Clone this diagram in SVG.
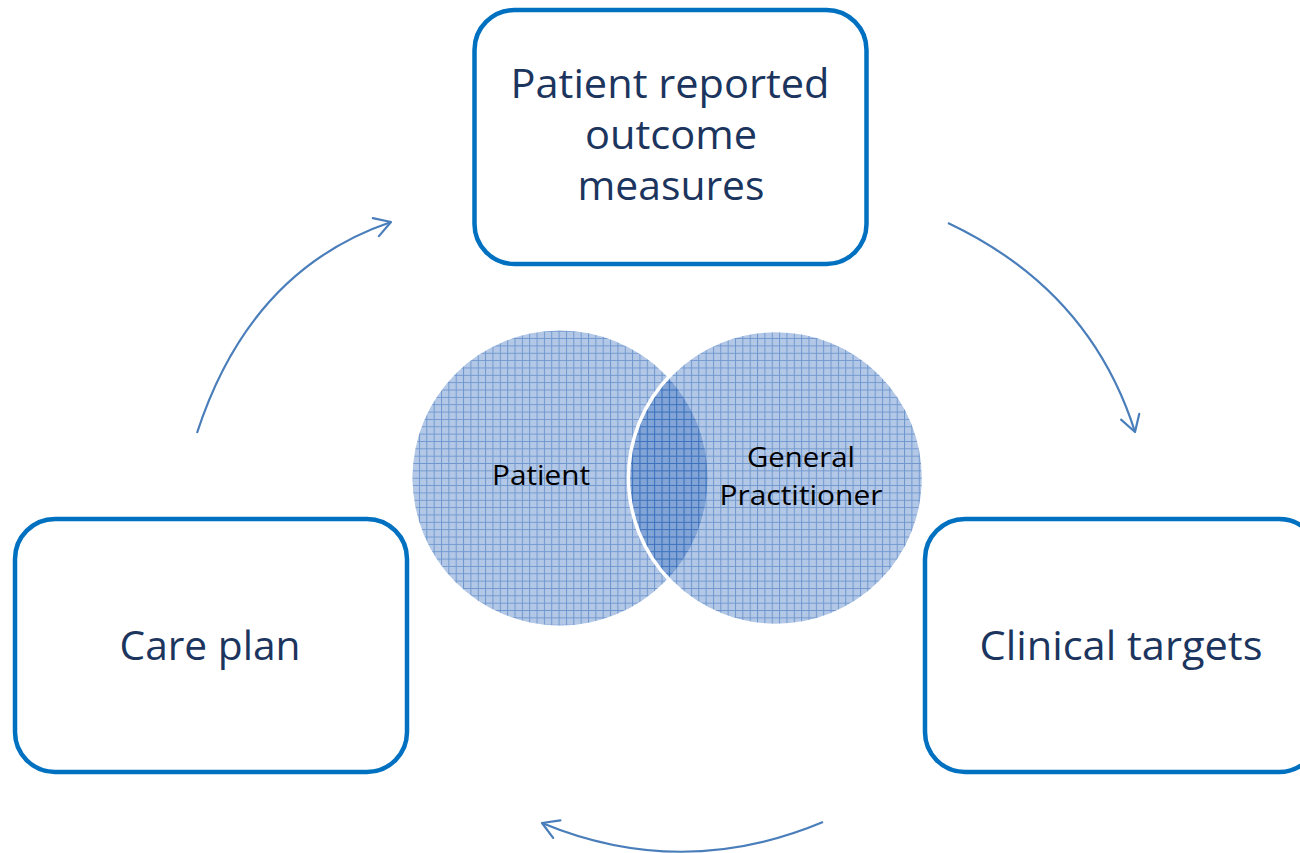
<svg xmlns="http://www.w3.org/2000/svg" width="1300" height="853" viewBox="0 0 1300 853">
  <style>
    .box { fill: #ffffff; stroke: #0070c0; stroke-width: 4.5; }
    .big { font-family: "Open Sans", "Liberation Sans", sans-serif; font-size: 40px; fill: #1c355e; text-anchor: middle; }
    .small { font-family: "Open Sans", "Liberation Sans", sans-serif; font-size: 28px; fill: #000000; text-anchor: middle; }
    .arc { fill: none; stroke: #4a7ebb; stroke-width: 2.2; marker-end: url(#open); }
  </style>
  <defs>
    <!-- light blue grid fill, translucent so the overlap darkens -->
    <pattern id="grid" patternUnits="userSpaceOnUse" width="7.35" height="7.35">
      <rect width="7.35" height="7.35" fill="#2460b6" fill-opacity="0.35"/>
      <path d="M0 0.5 H7.35 M0.5 0 V7.35" stroke="#1f5ab4" stroke-opacity="0.45" stroke-width="1" fill="none"/>
    </pattern>
    <marker id="open" markerUnits="userSpaceOnUse" markerWidth="24" markerHeight="24" viewBox="-20 -12 22 24" refX="0" refY="0" orient="auto">
      <path d="M-16,-9.5 L0,0 L-16,9.5" fill="none" stroke="#4a7ebb" stroke-width="2.2" stroke-linecap="round" stroke-linejoin="round"/>
    </marker>
  </defs>

  <rect width="1300" height="853" fill="#ffffff"/>

  <g id="connectors">
    <path class="arc" d="M948,223 Q1090,290 1135,432"/>
    <path class="arc" d="M823,822 Q682,881 542,823"/>
    <path class="arc" d="M197,433 Q250,270 391,222"/>
  </g>

  <g id="venn">
    <g id="patient">
      <circle cx="560" cy="478" r="147.5" fill="url(#grid)"/>
      <text class="small" x="541" y="485" textLength="98" lengthAdjust="spacingAndGlyphs">Patient</text>
    </g>
    <g id="general-practitioner">
      <circle cx="776" cy="478" r="147.5" fill="url(#grid)" stroke="#ffffff" stroke-width="3.5"/>
      <text class="small" x="801" y="467" textLength="108" lengthAdjust="spacingAndGlyphs">General</text>
      <text class="small" x="801" y="505" textLength="163" lengthAdjust="spacingAndGlyphs">Practitioner</text>
    </g>
  </g>

  <g id="proms">
    <rect class="box" x="474.5" y="10" width="392" height="254" rx="40" ry="40"/>
    <text class="big" x="670" y="98" textLength="319" lengthAdjust="spacingAndGlyphs">Patient reported</text>
    <text class="big" x="671" y="149" textLength="172" lengthAdjust="spacingAndGlyphs">outcome</text>
    <text class="big" x="671" y="200" textLength="187" lengthAdjust="spacingAndGlyphs">measures</text>
  </g>

  <g id="care-plan">
    <rect class="box" x="15" y="519" width="392" height="253" rx="40" ry="40"/>
    <text class="big" x="210" y="660" textLength="181" lengthAdjust="spacingAndGlyphs">Care plan</text>
  </g>

  <g id="clinical-targets">
    <rect class="box" x="925" y="519" width="394" height="253" rx="40" ry="40"/>
    <text class="big" x="1121" y="660" textLength="283" lengthAdjust="spacingAndGlyphs">Clinical targets</text>
  </g>
</svg>
